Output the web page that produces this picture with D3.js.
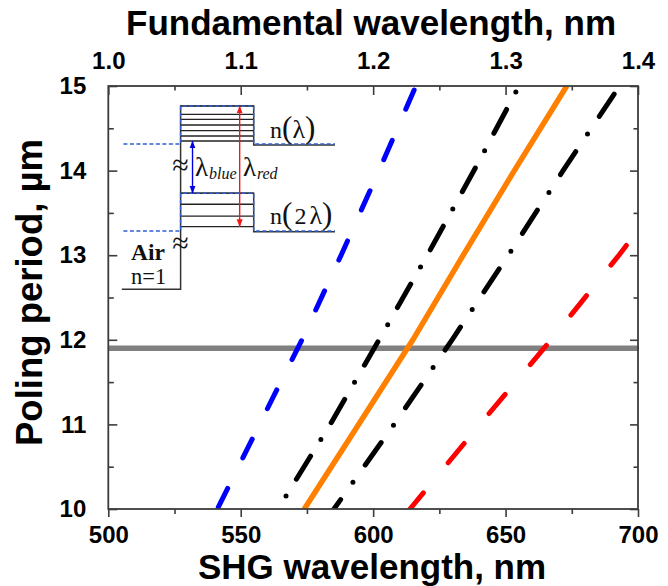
<!DOCTYPE html>
<html lang="en">
<head>
<meta charset="utf-8">
<title>Poling period vs SHG wavelength</title>
<script src="https://d3js.org/d3.v7.min.js"></script>
<style>
  html, body { margin: 0; padding: 0; background: #fff; }
  svg { display: block; }
  text { font-family: "Liberation Sans", Arial, sans-serif; }
  .tick text { font-weight: bold; font-size: 24px; fill: #000; }
  .axis-title { font-weight: bold; fill: #000; }
  .inset text { font-family: "Liberation Serif", serif; fill: #111; }
</style>
</head>
<body>
<script>
// Curves: poling period (um) and SHG wavelength (nm)
var bluePeriod = [10, 11, 12, 13, 14, 14.976];
var blueNm = [541.2, 557.1, 573.1, 587.9, 602.2, 615.8];

var orangePeriod = [10, 11, 12, 13, 14, 15];
var orangeNm = [574, 594.5, 615, 634, 653.3, 673.1];

var blackLeftPeriod = [10.154, 11.017, 12.02, 13.06, 14.066, 14.93];
var blackLeftNm = [567.1, 584.1, 602.6, 621.5, 639.2, 653.9];

var blackRightPeriod = [10, 11, 12, 13, 14, 14.905];
var blackRightNm = [585.2, 607.9, 629.8, 651, 671.7, 691];

var redPeriod = [10, 11, 12, 13, 13.16];
var redNm = [613.9, 640.3, 667.2, 692.8, 696.7];

var markerPeriod = 11.9;

// Tick labels
var shgTicks = [500, 550, 600, 650, 700];
var shgMinor = [525, 575, 625, 675];
var fundTicks = [1.0, 1.1, 1.2, 1.3, 1.4];
var fundMinor = [1.05, 1.15, 1.25, 1.35];
var periodTicks = [10, 11, 12, 13, 14, 15];
var periodMinor = [10.5, 11.5, 12.5, 13.5, 14.5];

// Band diagram inset, in the same axis units
var upperLevels = [14.764, 14.665, 14.606, 14.539, 14.472, 14.409, 14.35];
var lowerLevels = [13.732, 13.602, 13.463, 13.337];
var wellNm = [527.3, 554.9];
var stepEndNm = 585.6;
var airNm = 505.1;
var airPeriod = 12.597;
var upperStep = 14.303;
var lowerStep = 13.278;
var dashStartNm = 505.7;
var upperDash = 14.314;
var lowerDash = 13.286;

var width = 668,
    height = 586,
    margin = {top: 86, right: 30, bottom: 77, left: 108.3};

var svg = d3.select("body").append("svg")
    .attr("width", width)
    .attr("height", height);

var x = d3.scaleLinear().domain([500, 700]).range([margin.left, width - margin.right]);
var xTop = d3.scaleLinear().domain([1.0, 1.4]).range(x.range());
var y = d3.scaleLinear().domain([10, 15]).range([height - margin.bottom, margin.top]);

var defs = svg.append("defs");
defs.append("clipPath").attr("id", "plot")
  .append("rect")
    .attr("x", margin.left)
    .attr("y", margin.top)
    .attr("width", x.range()[1] - x.range()[0])
    .attr("height", y.range()[0] - y.range()[1]);

[["arrowBlue", "#0000e0"], ["arrowRed", "#f01818"]].forEach(function(m) {
  defs.append("marker")
      .attr("id", m[0])
      .attr("viewBox", "0 0 8 8")
      .attr("refX", 7.5).attr("refY", 4)
      .attr("markerWidth", 8).attr("markerHeight", 8)
      .attr("markerUnits", "userSpaceOnUse")
      .attr("orient", "auto-start-reverse")
    .append("path")
      .attr("d", "M0,1 L8,4 L0,7 Z")
      .attr("fill", m[1]);
});

var line = d3.line()
    .x(function(d) { return x(d[1]); })
    .y(function(d) { return y(d[0]); });

var curves = svg.append("g");

curves.append("line")
    .attr("x1", x.range()[0]).attr("x2", x.range()[1] + 1)
    .attr("y1", y(markerPeriod)).attr("y2", y(markerPeriod))
    .attr("stroke", "#808080")
    .attr("stroke-width", 5.5);

function drawCurve(period, nm, color, w, dash, offset, clip) {
  var p = curves.append("path")
      .datum(d3.zip(period, nm))
      .attr("d", line)
      .attr("fill", "none")
      .attr("stroke", color)
      .attr("stroke-width", w);
  if (dash) {
    p.attr("stroke-dasharray", dash)
     .attr("stroke-dashoffset", offset)
     .attr("stroke-linecap", "round");
  }
  if (clip) p.attr("clip-path", "url(#plot)");
}

drawCurve(bluePeriod, blueNm, "#0000ff", 5, "21 34", -2, true);
drawCurve(blackLeftPeriod, blackLeftNm, "#000", 5, "0 19.7 27 19.7", 0, false);
drawCurve(blackRightPeriod, blackRightNm, "#000", 5, "0 21.25 27.5 21.25", 37.25, true);
drawCurve(orangePeriod, orangeNm, "#ff8000", 5.5, null, 0, true);
drawCurve(redPeriod, redNm, "#ff0000", 5, "25 39", 4, true);

// Axes
var axisColor = "#3c3c3c";

function addAxis(axis, tx, ty) {
  var g = svg.append("g")
      .attr("transform", "translate(" + tx + "," + ty + ")")
      .call(axis);
  g.select(".domain").remove();
  g.selectAll("line").attr("stroke", axisColor).attr("stroke-width", 1.6);
  return g;
}

var bottomY = y.range()[0], topY = y.range()[1], leftX = x.range()[0], rightX = x.range()[1];

addAxis(d3.axisBottom(x).tickValues(shgTicks).tickSize(8).tickPadding(9).tickFormat(d3.format("d")), 0, bottomY);
addAxis(d3.axisBottom(x).tickValues(shgMinor).tickSize(5).tickFormat(""), 0, bottomY);
addAxis(d3.axisTop(xTop).tickValues(fundTicks).tickSizeInner(-9).tickSizeOuter(0).tickPadding(17).tickFormat(d3.format(".1f")), 0, topY);
addAxis(d3.axisTop(xTop).tickValues(fundMinor).tickSize(-4.5).tickFormat(""), 0, topY);
addAxis(d3.axisLeft(y).tickValues(periodTicks).tickSizeInner(-9).tickSizeOuter(0).tickPadding(22).tickFormat(d3.format("d")), leftX, 0);
addAxis(d3.axisLeft(y).tickValues(periodMinor).tickSize(-5.5).tickFormat(""), leftX, 0);
addAxis(d3.axisRight(y).tickValues(periodTicks).tickSize(-8).tickFormat(""), rightX, 0);
addAxis(d3.axisRight(y).tickValues(periodMinor).tickSize(-4.5).tickFormat(""), rightX, 0);

svg.append("rect")
    .attr("x", leftX).attr("y", topY)
    .attr("width", rightX - leftX).attr("height", bottomY - topY)
    .attr("fill", "none")
    .attr("stroke", axisColor)
    .attr("stroke-width", 1.8);

// Axis titles
svg.append("text").attr("class", "axis-title")
    .attr("x", 126).attr("y", 35)
    .attr("font-size", 35)
    .text("Fundamental wavelength, nm");

svg.append("text").attr("class", "axis-title")
    .attr("x", 198).attr("y", 579)
    .attr("font-size", 35)
    .text("SHG wavelength, nm");

svg.append("text").attr("class", "axis-title")
    .attr("transform", "translate(42,446) rotate(-90)")
    .attr("font-size", 36.5)
    .text("Poling period, \u00b5m");

// Inset band diagram
var inset = svg.append("g").attr("class", "inset");
var bandLine = d3.line().x(function(d) { return x(d[0]); }).y(function(d) { return y(d[1]); });

function band(points, color, w, dash) {
  return inset.append("path")
      .attr("d", bandLine(points))
      .attr("fill", "none")
      .attr("stroke", color)
      .attr("stroke-width", w)
      .attr("stroke-dasharray", dash || null);
}

upperLevels.concat(lowerLevels).forEach(function(level) {
  band([[wellNm[0], level], [wellNm[1], level]], "#222", 1.3);
});

band([[airNm, airPeriod], [wellNm[0], airPeriod], [wellNm[0], upperLevels[0]], [wellNm[1], upperLevels[0]],
      [wellNm[1], upperStep], [stepEndNm, upperStep]], "#333", 1.5);
band([[wellNm[0], lowerLevels[0]], [wellNm[1], lowerLevels[0]], [wellNm[1], lowerStep], [stepEndNm, lowerStep]], "#333", 1.5);

var dashBlue = "#2f5fd0";
band([[dashStartNm, upperDash], [wellNm[0], upperDash], [wellNm[0], upperLevels[0]], [wellNm[1], upperLevels[0]],
      [wellNm[1], upperDash], [stepEndNm, upperDash]], dashBlue, 1.5, "4 2.5");
band([[dashStartNm, lowerDash], [wellNm[0], lowerDash], [wellNm[0], lowerLevels[0]], [wellNm[1], lowerLevels[0]],
      [wellNm[1], lowerDash], [stepEndNm, lowerDash]], dashBlue, 1.5, "4 2.5");

band([[531.8, upperLevels[6]], [531.8, lowerLevels[0]]], "#0000e0", 1.4)
    .attr("marker-start", "url(#arrowBlue)")
    .attr("marker-end", "url(#arrowBlue)");
band([[549.6, upperLevels[0]], [549.6, lowerLevels[3]]], "#f01818", 1.4)
    .attr("marker-start", "url(#arrowRed)")
    .attr("marker-end", "url(#arrowRed)");

function label(nm, period, str, size, opts) {
  opts = opts || {};
  return inset.append("text")
      .attr("x", x(nm)).attr("y", y(period))
      .attr("font-size", size)
      .attr("font-weight", opts.bold ? "bold" : null)
      .attr("font-style", opts.italic ? "italic" : null)
      .attr("text-anchor", opts.anchor || null)
      .text(str);
}

// n(...) labels keep the big brackets inline, as one text each
function indexLabel(nm, period, parts) {
  var t = label(nm, period, "", 24);
  parts.forEach(function(part) {
    t.append("tspan")
        .attr("font-size", part[1])
        .attr("dx", part[2] || null)
        .text(part[0]);
  });
}

indexLabel(561.1, 14.385, [["n", 24], ["(", 31], ["\u03bb", 26], [")", 31]]);
indexLabel(561.1, 13.369, [["n", 24], ["(", 31], ["2", 24, 2], ["\u03bb", 26, 3], [")", 31]]);

label(532.7, 13.94, "\u03bb", 27);
label(538, 13.9, "blue", 16, {italic: true});
label(550.9, 13.94, "\u03bb", 27);
label(556.1, 13.9, "red", 16, {italic: true});
label(508.6, 12.943, "Air", 23.5, {bold: true});
label(508.6, 12.66, "n=1", 22.5);
label(wellNm[0], 13.95, "\u2248", 30, {anchor: "middle"});
label(wellNm[0], 13.026, "\u2248", 30, {anchor: "middle"});
</script>
</body>
</html>
